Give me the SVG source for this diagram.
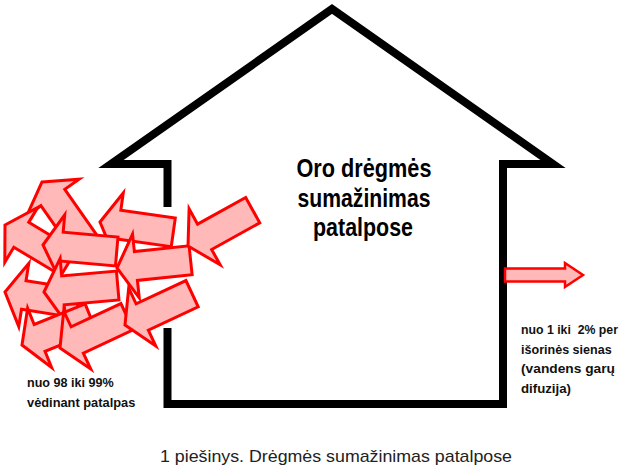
<svg xmlns="http://www.w3.org/2000/svg" xmlns:xlink="http://www.w3.org/1999/xlink" width="626" height="473" viewBox="0 0 626 473">
<style>
.wall{fill:none;stroke:#000;stroke-width:8;stroke-linejoin:miter;stroke-miterlimit:6;stroke-linecap:butt}
.arr{fill:#ffb9b9;stroke:#ff0000;stroke-width:3;stroke-linejoin:miter;stroke-miterlimit:5}
.title{font-family:"Liberation Sans",Arial,sans-serif;font-weight:bold;font-size:25px;fill:#000}
.lbl{font-family:"Liberation Sans",Arial,sans-serif;font-weight:bold;font-size:13px;fill:#111}
.cap{font-family:"Liberation Sans",Arial,sans-serif;font-size:17px;fill:#222}
</style>
<defs>
<path id="arrow" d="M0,0 L19,-32 L19,-14.5 L74,-14.5 L74,14.5 L19,14.5 L19,32 Z"/>
</defs>
<rect width="626" height="473" fill="#fff"/>
<g id="house">
<path class="wall" d="M167.5,207 L167.5,164 L111,164 L332,9 L553,164 L503,164 L503,404 L167.5,404 L167.5,328"/>
</g>
<g id="title">
<text class="title" x="364" y="176.5" text-anchor="middle" textLength="135" lengthAdjust="spacingAndGlyphs">Oro drėgmės</text>
<text class="title" x="364" y="206.5" text-anchor="middle" textLength="133" lengthAdjust="spacingAndGlyphs">sumažinimas</text>
<text class="title" x="363" y="236" text-anchor="middle" textLength="100" lengthAdjust="spacingAndGlyphs">patalpose</text>
</g>
<g id="connectors">
<g id="ventilation-arrows">
<use xlink:href="#arrow" class="arr" transform="translate(42,182) rotate(55)"/>
<use xlink:href="#arrow" class="arr" transform="translate(5,225) rotate(31)"/>
<use xlink:href="#arrow" class="arr" transform="translate(5,292) rotate(9)"/>
<use xlink:href="#arrow" class="arr" transform="translate(100,222) rotate(8)"/>
<use xlink:href="#arrow" class="arr" transform="translate(43,245) rotate(5)"/>
<use xlink:href="#arrow" class="arr" transform="translate(117,268) rotate(-6)"/>
<use xlink:href="#arrow" class="arr" transform="translate(44,292) rotate(-5)"/>
<use xlink:href="#arrow" class="arr" transform="translate(22,345) rotate(-22)"/>
<use xlink:href="#arrow" class="arr" transform="translate(60,348) rotate(-25)"/>
<use xlink:href="#arrow" class="arr" transform="translate(125,325) rotate(-25)"/>
<use xlink:href="#arrow" class="arr" transform="translate(188,246) rotate(-29)"/>
</g>
<path id="diffusion-arrow" d="M505,268.5 L565,268.5 L565,263 L583,275 L565,287 L565,281.5 L505,281.5 Z" fill="#ffb9b9" stroke="#ff0000" stroke-width="2.5" stroke-linejoin="miter"/>
</g>
<g id="label-ventilation">
<text class="lbl" x="27" y="386.7" textLength="86.6" lengthAdjust="spacingAndGlyphs">nuo 98 iki 99%</text>
<text class="lbl" x="27" y="406.7" textLength="108.3" lengthAdjust="spacingAndGlyphs">vėdinant patalpas</text>
</g>
<g id="label-diffusion">
<text class="lbl" x="521" y="334.3" textLength="97" lengthAdjust="spacingAndGlyphs" xml:space="preserve">nuo 1 iki  2% per</text>
<text class="lbl" x="521" y="353.8" textLength="90.7" lengthAdjust="spacingAndGlyphs">išorinės sienas</text>
<text class="lbl" x="521" y="373.2" textLength="94" lengthAdjust="spacingAndGlyphs">(vandens garų</text>
<text class="lbl" x="521" y="392.7" textLength="50" lengthAdjust="spacingAndGlyphs">difuzija)</text>
</g>
<g id="caption">
<text class="cap" x="160" y="462" textLength="352" lengthAdjust="spacingAndGlyphs">1 piešinys. Drėgmės sumažinimas patalpose</text>
</g>
</svg>
